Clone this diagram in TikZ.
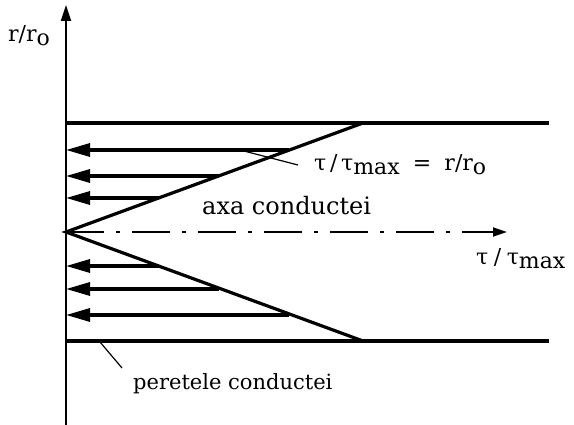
\documentclass[tikz,border=0pt]{standalone}
\usepackage{fontspec}
\setmainfont{DejaVu Serif}
\usetikzlibrary{arrows.meta}
\begin{document}
\begin{tikzpicture}[x=1pt,y=-1pt,
  thick line/.style={line width=3.2pt},
  flow/.style={line width=3.2pt,{Triangle[length=24pt,width=13pt]}-},
  lbl/.style={font=\fontsize{22}{26}\selectfont,inner sep=0pt,anchor=base west}]
\useasboundingbox (0,0) rectangle (574,425);
% coordinates
\coordinate (axbot) at (66,425);
\coordinate (axtop) at (66,5);
\coordinate (apex) at (66,232);
\coordinate (tw0) at (66,123);
\coordinate (tw1) at (549,123);
\coordinate (bw0) at (66,341);
\coordinate (bw1) at (549,341);
\coordinate (tc) at (363,123);
\coordinate (bc) at (363,341);
\coordinate (cl1) at (507,232);
% axis
\draw[line width=2pt,-{Triangle[length=16pt,width=10pt]}] (axbot) -- (axtop);
% walls
\draw[thick line] (tw0) -- (tw1);
\draw[thick line] (bw0) -- (bw1);
% centerline
\draw[line width=1.8pt,dash pattern=on 38pt off 12pt on 4pt off 12pt] (apex) -- (490,232);
\draw[line width=1.8pt,-{Triangle[length=14pt,width=9pt]}] (480,232) -- (cl1);
% profile
\draw[thick line] (tc) -- (apex) -- (bc);
% flow arrows
\foreach \y/\x [count=\i] in {150/289,176/219,198/159,266/159,289/219,315/289}{
  \coordinate (e\i) at (\x,\y);
  \coordinate (s\i) at (66,\y);
  \draw[flow] (s\i) -- (e\i);
}
% labels
\node[lbl] (tl) at (314,171) {τ\,/\,τ\raisebox{-0.3ex}{max}\hspace{0.6em}=\hspace{0.6em}r/r\raisebox{-0.3ex}{o}};
\coordinate (tle) at (298,165);
\draw[line width=1.2pt] (240,150) -- (tle);
\node[lbl,font=\fontsize{24}{28}\selectfont] (axa) at (202,215) {axa conductei};
\node[lbl] (tx) at (476,265) {τ\hspace{0.25em}/\hspace{0.25em}τ\raisebox{-0.3ex}{max}};
\node[lbl] (ry) at (8,42) {r/r\raisebox{-0.3ex}{o}};
\node[lbl,font=\fontsize{21}{25}\selectfont] (per) at (133,389) {peretele conductei};
\coordinate (pw) at (100,342);
\draw[line width=1.2pt] (pw) -- (122,368);
\end{tikzpicture}
\end{document}
